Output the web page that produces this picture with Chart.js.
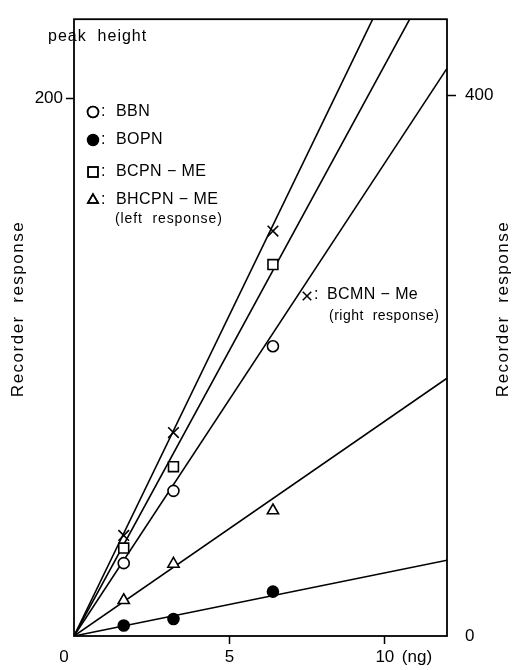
<!DOCTYPE html>
<html>
<head>
<meta charset="utf-8">
<script src="https://cdn.jsdelivr.net/npm/chart.js@4"></script>
<style>
  body { margin: 0; background: #fff; }
  canvas { display: block; }
</style>
</head>
<body>
<canvas id="myChart" width="512" height="670"></canvas>
<script>
// measured points (ng injected vs. peak height)
var xNg = [1.6, 3.2, 6.4];
var bbn = [27.1, 54.0, 107.8];
var bopn = [3.9, 6.3, 16.5];
var bcpnMe = [32.7, 63.0, 138.2];
var bhcpnMe = [13.3, 26.8, 46.7];
var bcmnMe = [74.4, 150.5, 299.6]; // right response

// fitted lines through origin
var fitX = [0, 12];
var bbnFit = [0, 211.2];
var bopnFit = [0, 28.2];
var bcpnFit = [0, 255];
var bhcpnFit = [0, 95.9];
var bcmnFit = [0, 570];

var xTicks = [0, 5, 10];
var leftTicks = [200];
var rightTicks = [0, 400];

var FONT = "'Liberation Sans', Arial, sans-serif";

function pts(xs, ys) {
  return xs.map(function (x, i) { return { x: x, y: ys[i] }; });
}
function fitLine(ys, axis) {
  return {
    data: pts(fitX, ys), yAxisID: axis, showLine: true, pointRadius: 0,
    borderColor: "#000", borderWidth: 1.6, order: 2
  };
}
function marks(ys, axis, style, r, fill) {
  return {
    data: pts(xNg, ys), yAxisID: axis, showLine: false, pointStyle: style,
    pointRadius: r, backgroundColor: fill, borderColor: "#000",
    pointBorderWidth: 1.6, order: 1
  };
}

var extras = {
  id: "extras",
  afterDraw: function (chart) {
    var c = chart.ctx, a = chart.chartArea, sx = chart.scales.x;
    c.save();
    c.strokeStyle = "#000";
    c.lineWidth = 1.8;
    c.strokeRect(a.left, a.top, a.right - a.left, a.bottom - a.top);
    c.fillStyle = "#000";
    c.textBaseline = "middle";

    // x labels
    c.font = "17px " + FONT;
    c.textAlign = "center";
    c.fillText("0", sx.getPixelForValue(0) - 10, 657);
    c.fillText("5", sx.getPixelForValue(5), 657);
    c.fillText("10", sx.getPixelForValue(10), 657);
    c.textAlign = "left";
    c.fillText("(ng)", sx.getPixelForValue(10) + 17, 657);

    c.letterSpacing = "1px";
    c.font = "16px " + FONT;
    c.fillText("peak  height", 48, 37);

    // legend
    c.letterSpacing = "0.4px";
    var items = [
      ["circle", "#fff", 5.5, "BBN", 112],
      ["circle", "#000", 5.5, "BOPN", 140],
      ["rect", "#fff", 7, "BCPN − ME", 172],
      ["triangle", "#fff", 6, "BHCPN − ME", 200]
    ];
    items.forEach(function (it) {
      c.fillStyle = it[1];
      c.lineWidth = 1.5;
      Chart.helpers.drawPoint(c, { pointStyle: it[0], radius: it[2], borderWidth: 1.5 }, 93, it[4]);
      if (it[1] === "#fff") c.stroke();
      c.fillStyle = "#000";
      c.font = "16px " + FONT;
      c.fillText(":", 101, it[4]);
      c.fillText(it[3], 116, it[4]);
    });
    c.letterSpacing = "0.9px";
    c.font = "14px " + FONT;
    c.fillText("(left  response)", 115, 219);

    c.letterSpacing = "0.4px";
    Chart.helpers.drawPoint(c, { pointStyle: "crossRot", radius: 6, borderWidth: 1.5 }, 307, 296);
    c.font = "16px " + FONT;
    c.fillText(":", 314, 295);
    c.fillText("BCMN − Me", 327, 295);
    c.letterSpacing = "0.5px";
    c.font = "14px " + FONT;
    c.fillText("(right  response)", 329, 316);

    // axis titles
    c.font = "17px " + FONT;
    c.letterSpacing = "1.5px";
    c.textAlign = "center";
    [[18, 309], [503, 309]].forEach(function (p) {
      c.save();
      c.translate(p[0], p[1]);
      c.rotate(-Math.PI / 2);
      c.fillText("Recorder  response", 0, 0);
      c.restore();
    });
    c.restore();
  }
};

new Chart("myChart", {
  type: "scatter",
  data: {
    datasets: [
      marks(bbn, "y", "circle", 5.5, "#fff"),
      marks(bopn, "y", "circle", 5.5, "#000"),
      marks(bcpnMe, "y", "rect", 7, "#fff"),
      marks(bhcpnMe, "y", "triangle", 6.5, "#fff"),
      marks(bcmnMe, "y2", "crossRot", 7.5, "#000"),
      fitLine(bbnFit, "y"),
      fitLine(bopnFit, "y"),
      fitLine(bcpnFit, "y"),
      fitLine(bhcpnFit, "y"),
      fitLine(bcmnFit, "y2")
    ]
  },
  options: {
    responsive: false,
    animation: false,
    layout: { padding: { top: 13, left: 0, right: 0, bottom: 0 } },
    plugins: { legend: { display: false }, tooltip: { enabled: false } },
    scales: {
      x: {
        type: "linear", min: 0, max: 12,
        afterBuildTicks: function (s) { s.ticks = xTicks.map(function (v) { return { value: v }; }); },
        afterFit: function (s) { s.height = 34; },
        border: { display: false },
        grid: {
          drawOnChartArea: false, tickLength: 8, tickWidth: 1.5,
          tickColor: function (ctx) { return ctx.tick && ctx.tick.value === 0 ? "rgba(0,0,0,0)" : "#000"; }
        },
        ticks: { callback: function () { return ""; } }
      },
      y: {
        type: "linear", position: "left", min: 0, max: 229.5,
        afterBuildTicks: function (s) { s.ticks = leftTicks.map(function (v) { return { value: v }; }); },
        afterFit: function (s) { s.width = 74; },
        border: { display: false },
        grid: { drawOnChartArea: false, tickLength: 8, tickWidth: 1.5, tickColor: "#000" },
        ticks: { color: "#000", padding: 3, font: { size: 17, family: FONT } }
      },
      y2: {
        type: "linear", position: "right", min: 0, max: 456.4,
        afterBuildTicks: function (s) { s.ticks = rightTicks.map(function (v) { return { value: v }; }); },
        afterFit: function (s) { s.width = 65; },
        border: { display: false },
        grid: {
          drawOnChartArea: false, tickLength: 9, tickWidth: 1.5,
          tickColor: function (ctx) { return ctx.tick && ctx.tick.value === 0 ? "rgba(0,0,0,0)" : "#000"; }
        },
        ticks: { color: "#000", padding: 9, font: { size: 17, family: FONT } }
      }
    }
  },
  plugins: [extras]
});
</script>
</body>
</html>
